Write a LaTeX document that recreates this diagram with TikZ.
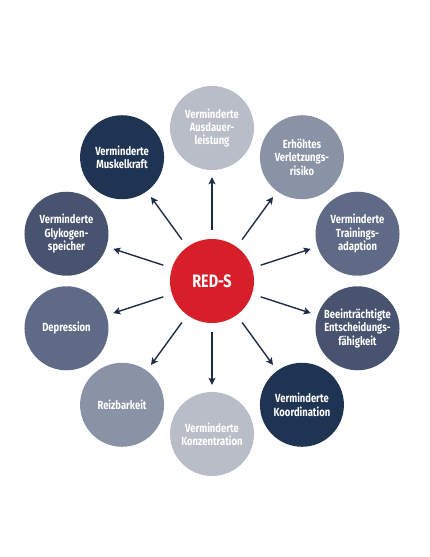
\documentclass[tikz,border=0pt]{standalone}
\usepackage{fontspec}
\setmainfont{Fira Sans}[FakeStretch=0.8]
\usetikzlibrary{arrows.meta}
\definecolor{cred}{HTML}{D71F2A}
\definecolor{clight}{HTML}{B9BDC7}
\definecolor{cmed}{HTML}{8A92A6}
\definecolor{cslate}{HTML}{5F6B86}
\definecolor{cdark}{HTML}{47536F}
\definecolor{cnavy}{HTML}{1F3452}
\definecolor{carrow}{HTML}{1E2D45}
\tikzset{
  bubble/.style={circle, inner sep=0pt, minimum size=84pt, text=white, align=center,
    font=\fontsize{11.8}{13.3}\selectfont\bfseries},
  core/.style={circle, inner sep=0pt, minimum size=84pt, fill=cred, text=white,
    font=\fontsize{18}{20}\selectfont\bfseries},
  arr/.style={draw=carrow, line width=1.4pt, -{Stealth[length=7pt,width=7pt,inset=1.5pt]},
    shorten <=9pt, shorten >=7pt}
}
\begin{document}
\begin{tikzpicture}[x=1pt,y=-1pt]
\useasboundingbox (0,0) rectangle (430,557);
\node[core] (c) at (212,281) {RED-S};
\def\R{153}
\node[bubble, fill=clight] (o1) at ({212+\R*cos(90)},{281-\R*sin(90)}) {Verminderte\\Ausdauer-\\leistung};
\node[bubble, fill=cmed] (o2) at ({212+\R*cos(54)},{281-\R*sin(54)}) {Erhöhtes\\Verletzungs-\\risiko};
\node[bubble, fill=cslate] (o3) at ({212+\R*cos(18)},{281-\R*sin(18)}) {Verminderte\\Trainings-\\adaption};
\node[bubble, fill=cdark] (o4) at ({212+\R*cos(-18)},{281-\R*sin(-18)}) {Beeinträchtigte\\Entscheidungs-\\fähigkeit};
\node[bubble, fill=cnavy] (o5) at ({212+\R*cos(-54)},{281-\R*sin(-54)}) {Verminderte\\Koordination};
\node[bubble, fill=clight] (o6) at ({212+\R*cos(-90)},{281-\R*sin(-90)}) {Verminderte\\Konzentration};
\node[bubble, fill=cmed] (o7) at ({212+\R*cos(-126)},{281-\R*sin(-126)}) {Reizbarkeit};
\node[bubble, fill=cslate] (o8) at ({212+\R*cos(-162)},{281-\R*sin(-162)}) {Depression};
\node[bubble, fill=cdark] (o9) at ({212+\R*cos(162)},{281-\R*sin(162)}) {Verminderte\\Glykogen-\\speicher};
\node[bubble, fill=cnavy] (o10) at ({212+\R*cos(126)},{281-\R*sin(126)}) {Verminderte\\Muskelkraft};
\foreach \i in {1,...,10} { \draw[arr] (c) -- (o\i); }
\end{tikzpicture}
\end{document}
